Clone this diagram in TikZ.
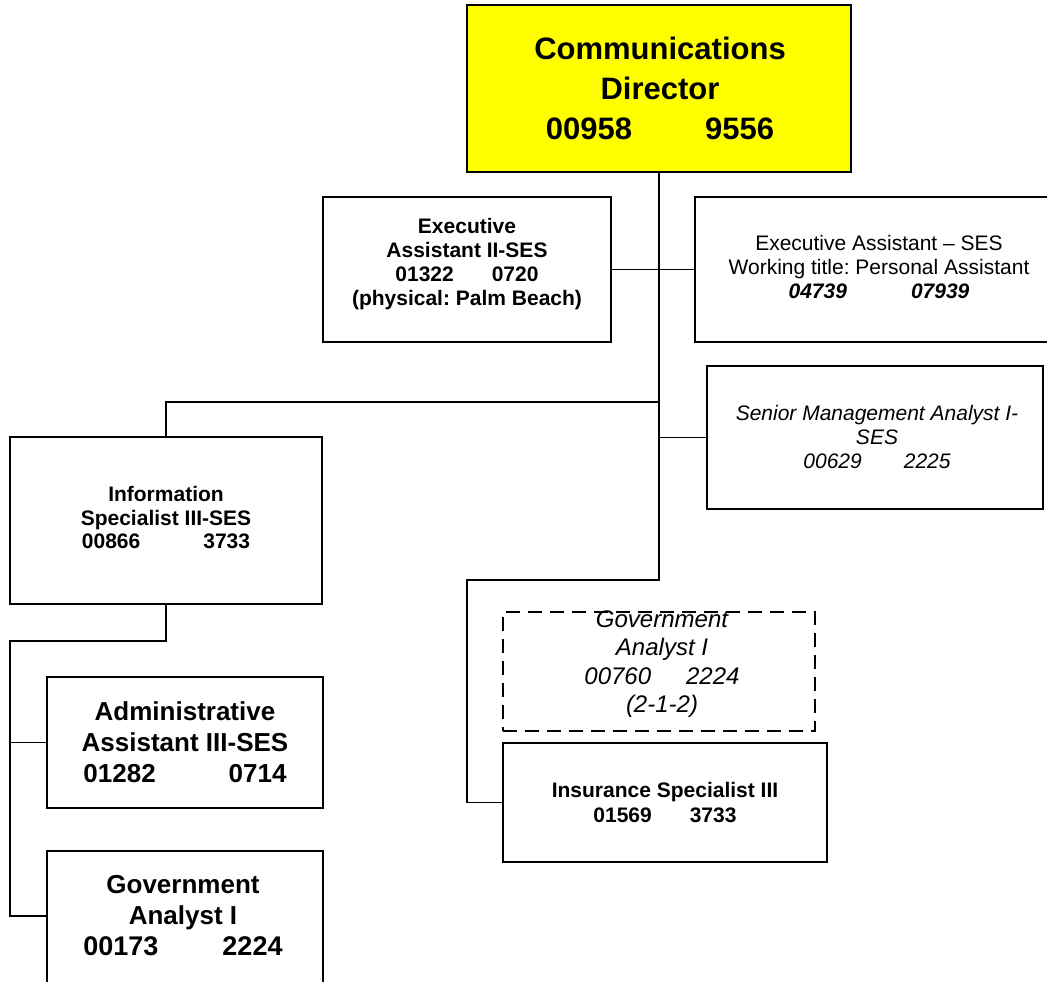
\documentclass[tikz,border=0pt]{standalone}
\usepackage{fontspec}
\setmainfont{Liberation Sans}
\frenchspacing
\begin{document}
\begin{tikzpicture}[x=1pt,y=-1pt,
  box/.style={draw, line width=1.5pt, rectangle, inner sep=0pt},
  vacant/.style={box, dash pattern=on 14pt off 8pt},
  conn/.style={line width=1.5pt},
  lbl/.style={align=center, inner sep=0pt},
  fs/.style={font=\fontsize{21}{24}\selectfont}]
\useasboundingbox (0,0) rectangle (1047,982);
\clip (0,0) rectangle (1047,982);

% position boxes
\node[box, fill={rgb,255:red,255;green,255;blue,0}, minimum width=384pt, minimum height=167pt] (dir) at (659,88.5) {};
\node[box, minimum width=288pt, minimum height=145pt] (ea2) at (467,269.5) {};
\node[box, minimum width=365pt, minimum height=145pt] (eas) at (877.5,269.5) {};
\node[box, minimum width=336pt, minimum height=143pt] (sma) at (875,437.5) {};
\node[box, minimum width=312pt, minimum height=167pt] (isp) at (166,520.5) {};
\node[vacant, minimum width=312pt, minimum height=119pt] (gad) at (659,671.5) {};
\node[box, minimum width=324pt, minimum height=119pt] (ins) at (665,802.5) {};
\node[box, minimum width=276pt, minimum height=131pt] (adm) at (185,742.5) {};
\node[box, minimum width=276pt, minimum height=141pt] (gal) at (185,921.5) {};

% labels
\node[lbl, font=\fontsize{31}{40}\selectfont\bfseries] (tdir) at (660,88)
  {Communications\\Director\\00958\hspace{73pt}9556};
\node[lbl, font=\fontsize{21}{24}\selectfont\bfseries] (tea2) at (467,264)
  {Executive\\Assistant II-SES\\01322\hspace{38pt}0720\\(physical: Palm Beach)};
\node[lbl, fs] (teas) at (879,267)
  {Executive Assistant -- SES\\Working title: Personal Assistant\\\textbf{\textit{04739\hspace{64pt}07939}}};
\node[lbl, font=\fontsize{21}{24}\selectfont\itshape] (tsma) at (877,437)
  {Senior Management Analyst I-\\SES\\00629\hspace{42pt}2225};
\node[lbl, font=\fontsize{21}{23.5}\selectfont\bfseries] (tisp) at (166,518)
  {Information\\Specialist III-SES\\00866\hspace{63pt}3733};
\node[lbl, font=\fontsize{24}{28.5}\selectfont\itshape] (tgad) at (662,664)
  {Government\\Analyst I\\00760\hspace{35pt}2224\\(2-1-2)};
\node[lbl, font=\fontsize{21}{25}\selectfont\bfseries] (tins) at (665,803)
  {Insurance Specialist III\\01569\hspace{38pt}3733};
\node[lbl, font=\fontsize{26}{31}\selectfont\bfseries] (tadm) at (185,742)
  {Administrative\\Assistant III-SES\\01282\hspace{73pt}0714};
\node[lbl, font=\fontsize{26}{31}\selectfont\bfseries] (tgal) at (183,916)
  {Government\\Analyst I\\{\fontsize{27}{31}\selectfont 00173\hspace{64pt}2224}};

% reporting lines
\coordinate (tb) at (659,580);
\coordinate (tc) at (467,580);
\coordinate (jn) at (659,402);
\coordinate (lb) at (10,641);
\draw[conn] (dir.south) -- (tb) -- (tc) |- (ins.west);
\draw[conn] (ea2.east) -- (eas.west);
\draw[conn] (jn) -| (isp.north);
\draw[conn] (dir.south |- sma.west) -- (sma.west);
\draw[conn] (isp.south) |- (lb) |- ([yshift=5.5pt]gal.west);
\draw[conn] (lb |- adm.west) -- (adm.west);
\end{tikzpicture}
\end{document}
